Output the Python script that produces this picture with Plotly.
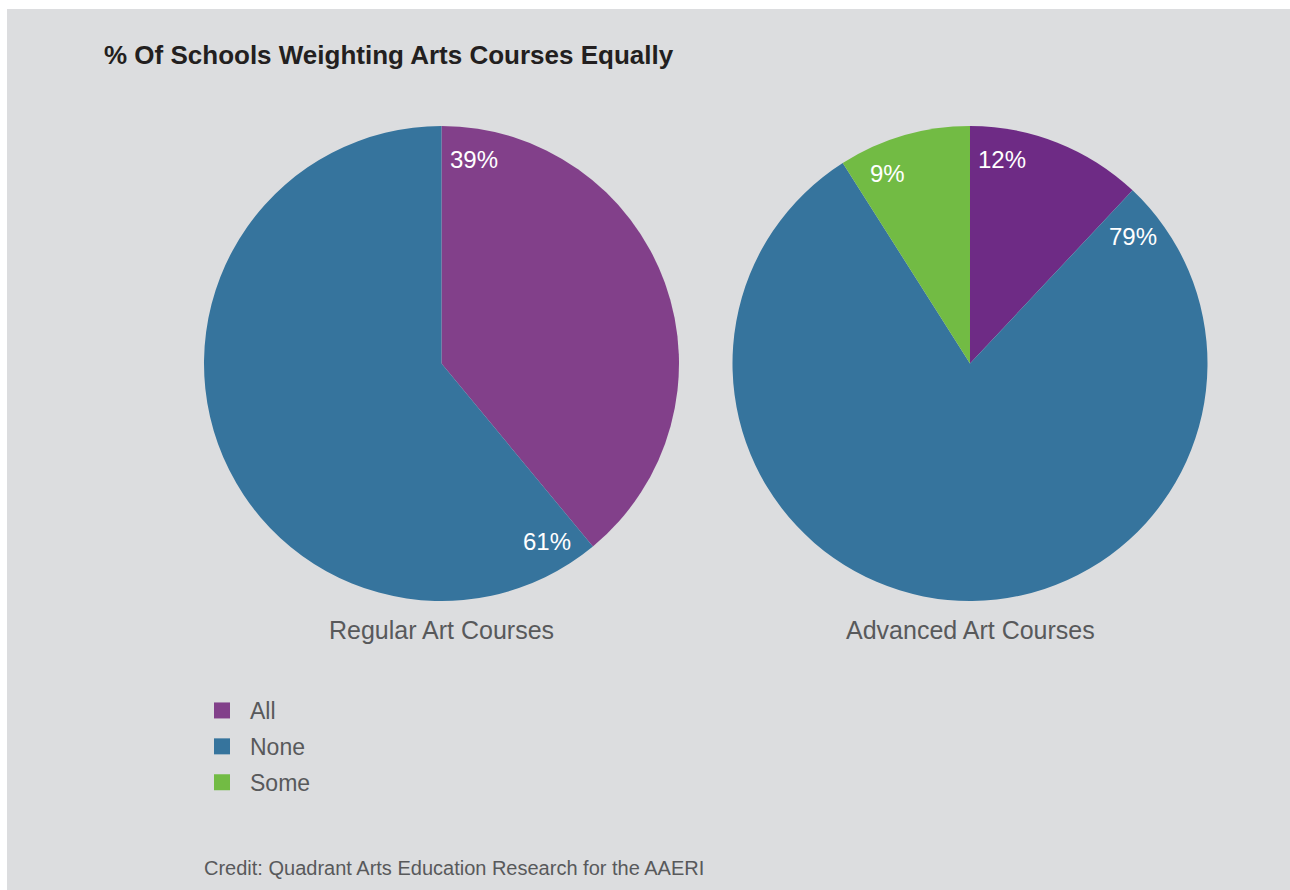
import math
import plotly.graph_objects as go

# ---- data ----
chart_title = "% Of Schools Weighting Arts Courses Equally"
credit = "Credit: Quadrant Arts Education Research for the AAERI"
pie_names = ["Regular Art Courses", "Advanced Art Courses"]
regular_labels = ["All", "None"]
regular_values = [39, 61]
advanced_labels = ["All", "None", "Some"]
advanced_values = [12, 79, 9]
legend_labels = ["All", "None", "Some"]

# ---- styles ----
W, H = 1290, 890
BG = "#dcdddf"
TXT = "#58595b"
FONT = "Liberation Sans, Arial, sans-serif"
regular_colors = ["#82408a", "#36749d"]
advanced_colors = ["#6e2b85", "#36749d", "#72bb44"]
legend_colors = ["#82408a", "#36749d", "#72bb44"]

R = 237.5
centers = [(441.5, 363.5), (970.0, 363.5)]


def dom(cx, cy):
    return dict(x=[(cx - R) / W, (cx + R) / W], y=[1 - (cy + R) / H, 1 - (cy - R) / H])


fig = go.Figure()
annotations = []
shapes = [dict(type="rect", xref="paper", yref="paper", x0=7 / W, x1=1, y0=0, y1=1 - 9 / H,
               fillcolor=BG, line=dict(width=0), layer="below")]

for (labels, values, colors), (cx, cy), name in zip(
        [(regular_labels, regular_values, regular_colors),
         (advanced_labels, advanced_values, advanced_colors)], centers, pie_names):
    fig.add_trace(go.Pie(labels=labels, values=values, sort=False, direction="clockwise",
                         rotation=0, marker=dict(colors=colors, line=dict(width=0)),
                         textinfo="none", showlegend=False, domain=dom(cx, cy), name=name))
    total = sum(values)
    cum = 0
    for v in values:
        ang = math.radians(cum / total * 360 + 9)
        r = 0.87 * R
        px = cx + r * math.sin(ang)
        py = cy - r * math.cos(ang)
        annotations.append(dict(x=px / W, y=1 - py / H, xref="paper", yref="paper",
                                xanchor="center", yanchor="middle",
                                text=f"{v}%", showarrow=False,
                                font=dict(family=FONT, size=24, color="white")))
        cum += v
    annotations.append(dict(x=cx / W, y=1 - 630 / H, xref="paper", yref="paper", text=name,
                            xanchor="center", yanchor="middle",
                            showarrow=False, font=dict(family=FONT, size=25, color=TXT)))

for lab, col in zip(legend_labels, legend_colors):
    fig.add_trace(go.Scatter(x=[None], y=[None], mode="markers", name=lab, legendgroup=lab,
                             marker=dict(symbol="square", size=20, color=col)))

annotations.append(dict(x=102 / W, y=1 - 55 / H, xref="paper", yref="paper",
                        xanchor="left", yanchor="middle",
                        text=f"<b>{chart_title}</b>", showarrow=False,
                        font=dict(family=FONT, size=26, color="#231f20")))
annotations.append(dict(x=202 / W, y=1 - 868 / H, xref="paper", yref="paper",
                        xanchor="left", yanchor="middle",
                        text=credit, showarrow=False,
                        font=dict(family=FONT, size=20, color=TXT)))

fig.update_layout(
    width=W, height=H, autosize=False,
    margin=dict(l=0, r=0, t=0, b=0),
    paper_bgcolor="white", plot_bgcolor="rgba(0,0,0,0)",
    xaxis=dict(visible=False), yaxis=dict(visible=False),
    shapes=shapes, annotations=annotations,
    showlegend=True,
    legend=dict(x=194 / W, y=1 - 689 / H, xanchor="left", yanchor="top",
                itemwidth=46,
                font=dict(family=FONT, size=23, color=TXT), bgcolor="rgba(0,0,0,0)",
                tracegroupgap=3),
)

fig.write_html("out.html", config={"displayModeBar": False},
               post_script="document.body.style.margin='0';document.body.style.overflow='hidden';")
